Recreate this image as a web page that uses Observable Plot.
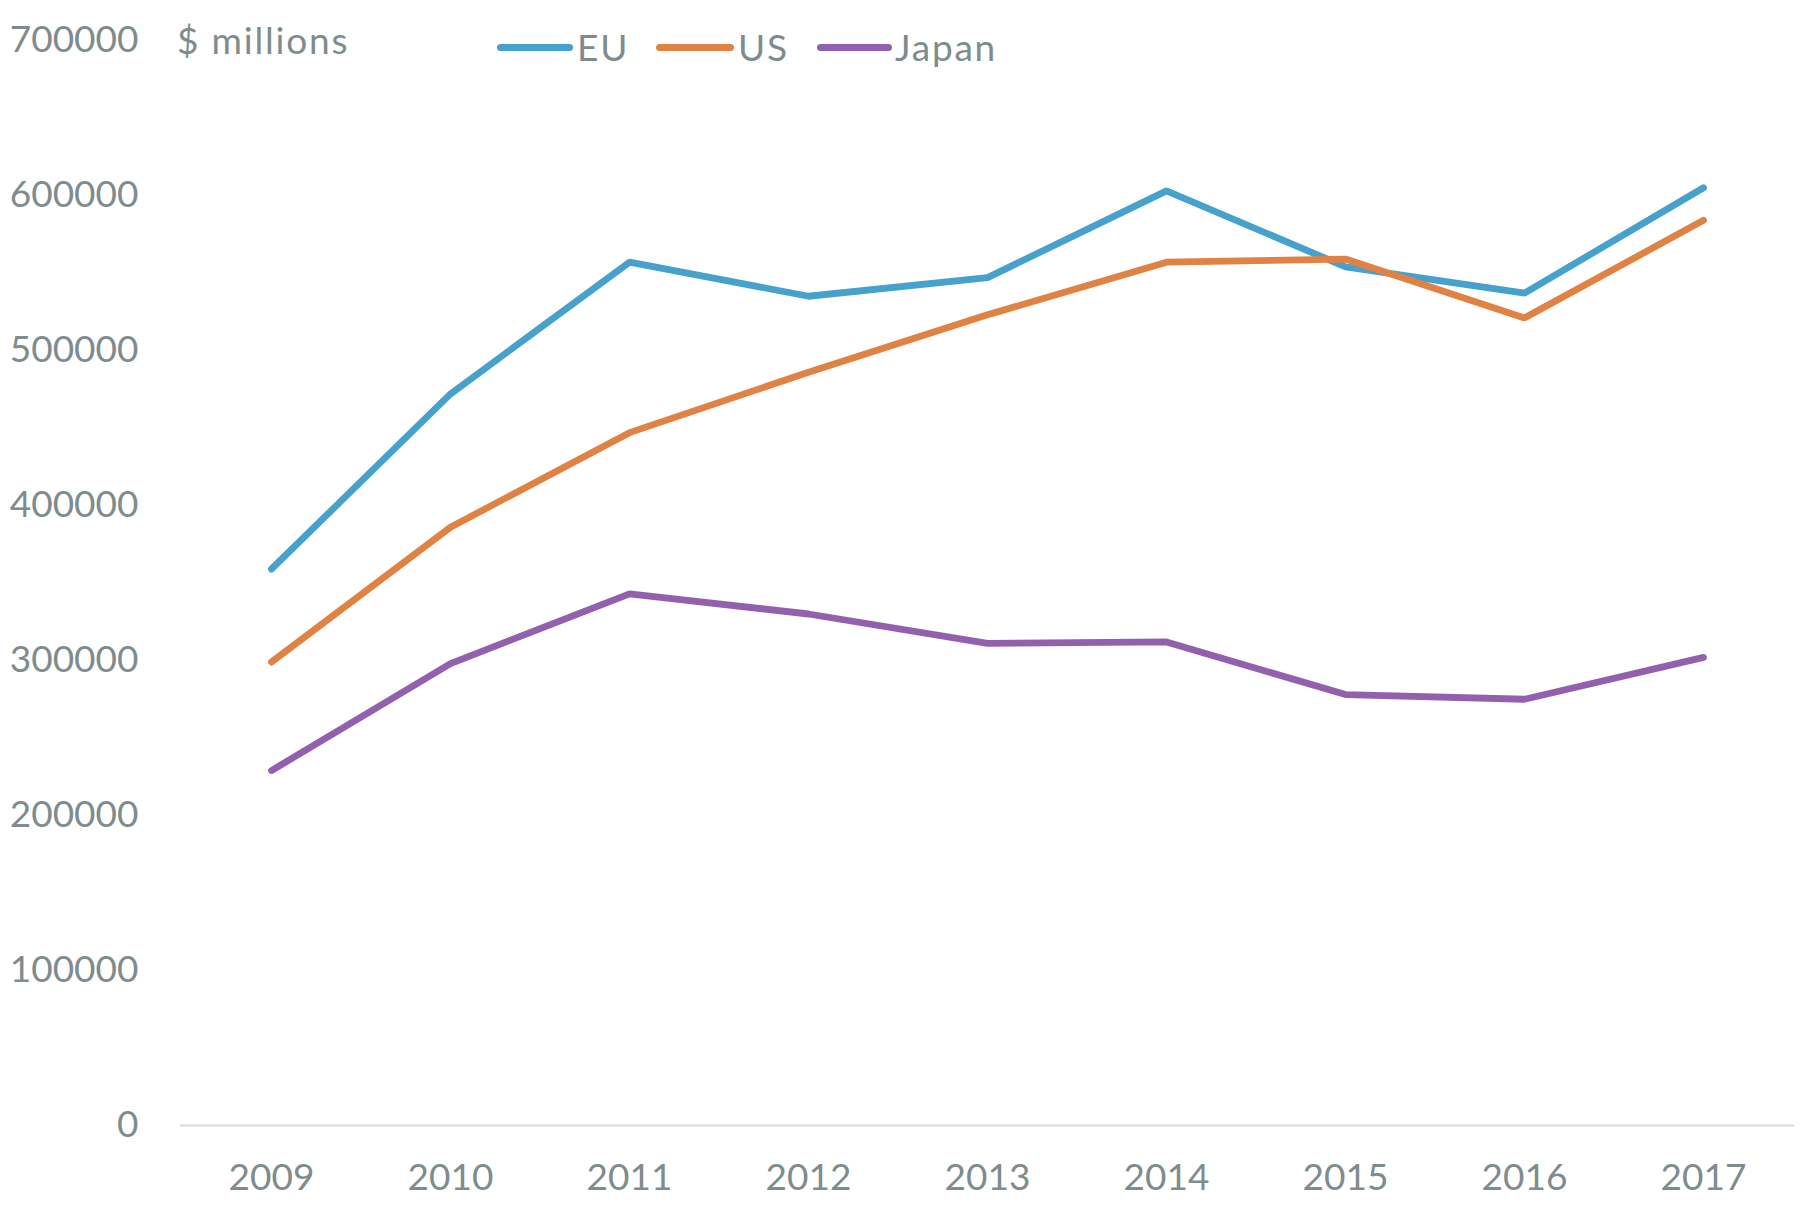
<!DOCTYPE html>
<html>
<head>
<meta charset="utf-8">
<script src="https://cdn.jsdelivr.net/npm/d3@7"></script>
<script src="https://cdn.jsdelivr.net/npm/@observablehq/plot@0.6"></script>
<style>
  html, body { margin: 0; padding: 0; background: #ffffff; }
  #wrap { position: relative; width: 1820px; height: 1208px; font-family: Lato, "Noto Sans", sans-serif; color: #7f8c8d; }
  .overlay { position: absolute; font-size: 37px; line-height: 50px; height: 50px; white-space: nowrap; letter-spacing: 1.8px; }
  .sw { position: absolute; height: 7px; border-radius: 4px; }
</style>
</head>
<body>
<div id="wrap">
  <div id="chart"></div>
  <div class="overlay" style="left:177px; top:15px;">$ millions</div>
  <div id="legend"></div>
</div>
<script>
const years = ["2009", "2010", "2011", "2012", "2013", "2014", "2015", "2016", "2017"];
const euValues = [359000, 472000, 557000, 535000, 547000, 603000, 554000, 537000, 605000];
const usValues = [299000, 386000, 447000, 486000, 523000, 557000, 559000, 521000, 584000];
const japanValues = [229000, 298000, 343000, 330000, 311000, 312000, 278000, 275000, 302000];
const seriesNames = ["EU", "US", "Japan"];
const seriesColors = ["#46a1cc", "#e08243", "#9360ae"];
const yTicks = [0, 100000, 200000, 300000, 400000, 500000, 600000, 700000];

const seriesValues = [euValues, usValues, japanValues];
const data = [];
seriesNames.forEach((name, i) => {
  years.forEach((yr, j) => data.push({series: name, year: yr, value: seriesValues[i][j]}));
});

const chart = Plot.plot({
  width: 1820,
  height: 1208,
  marginLeft: 180,
  marginRight: 26,
  marginTop: 40,
  marginBottom: 83,
  style: {fontFamily: "Lato, 'Noto Sans', sans-serif", fontSize: "37px", color: "#7f8c8d", background: "#ffffff", overflow: "visible"},
  x: {type: "point", domain: years, padding: 0.5, label: null},
  y: {domain: [0, 700000], label: null},
  color: {domain: seriesNames, range: seriesColors},
  marks: [
    Plot.ruleY([0], {stroke: "#d9d9d9", strokeWidth: 2}),
    Plot.axisY({ticks: yTicks, tickSize: 0, tickPadding: 42, tickFormat: d => String(d), label: null, fontSize: 37}),
    Plot.axisX({tickSize: 0, tickPadding: 38, label: null, fontSize: 37}),
    Plot.line(data, {x: "year", y: "value", z: "series", stroke: "series", strokeWidth: 6.8, strokeLinecap: "round", strokeLinejoin: "miter"})
  ]
});
document.getElementById("chart").appendChild(chart);

// legend
const legendItems = [
  {swLeft: 497, swWidth: 76, textLeft: 577},
  {swLeft: 656, swWidth: 78, textLeft: 738},
  {swLeft: 817, swWidth: 75, textLeft: 895}
];
const legend = document.getElementById("legend");
seriesNames.forEach((name, i) => {
  const sw = document.createElement("div");
  sw.className = "sw";
  sw.style.left = legendItems[i].swLeft + "px";
  sw.style.width = legendItems[i].swWidth + "px";
  sw.style.top = "44px";
  sw.style.background = seriesColors[i];
  legend.appendChild(sw);
  const t = document.createElement("div");
  t.className = "overlay";
  t.style.left = legendItems[i].textLeft + "px";
  t.style.top = "22px";
  t.textContent = name;
  legend.appendChild(t);
});
</script>
</body>
</html>
